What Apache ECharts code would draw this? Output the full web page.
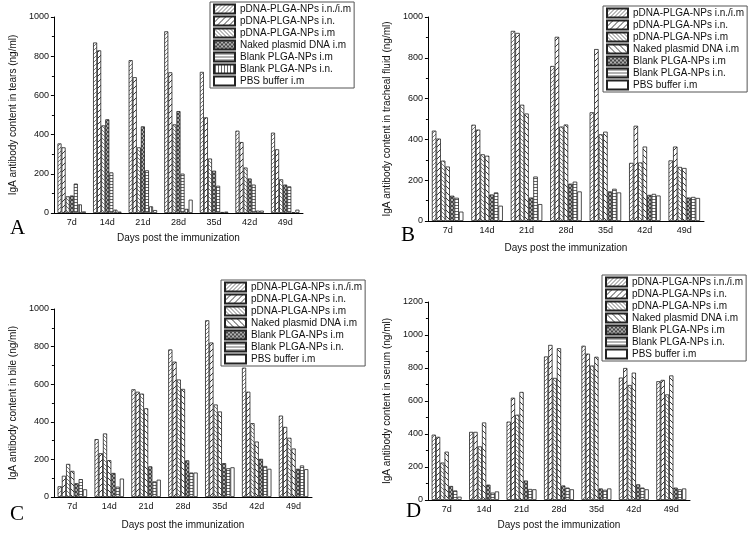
<!DOCTYPE html>
<html><head><meta charset="utf-8">
<script src="https://cdn.jsdelivr.net/npm/echarts@6/dist/echarts.min.js"></script>
<style>
html,body{margin:0;padding:0;background:#fff;width:748px;height:535px;overflow:hidden}
.p{position:absolute;width:374px;height:267px}
</style></head>
<body>
<div id="A" class="p" style="left:0;top:0"></div>
<div id="B" class="p" style="left:374px;top:0"></div>
<div id="C" class="p" style="left:0;top:268px"></div>
<div id="D" class="p" style="left:374px;top:268px"></div>
<script>
// ---------- data ----------
const days = ['7d','14d','21d','28d','35d','42d','49d'];
const groupNames = ['pDNA-PLGA-NPs i.n./i.m','pDNA-PLGA-NPs i.n.','pDNA-PLGA-NPs i.m','Naked plasmid DNA i.m','Blank PLGA-NPs i.m','Blank PLGA-NPs i.n.','PBS buffer i.m'];

// A: tears
const tears_inim   = [355, 870, 780, 927, 720, 420, 410];
const tears_in     = [335, 830, 693, 718, 488, 362, 325];
const tears_im     = [85, 447, 335, 452, 278, 232, 172];
const tears_naked  = [89, 478, 442, 520, 216, 176, 145];
const tears_blkim  = [150, 207, 218, 201, 139, 145, 136];
const tears_blkin  = [44, 17, 34, 21, 5, 12, 4];
const tears_pbs    = [8, 7, 15, 68, 7, 12, 17];

// B: tracheal fluid
const trach_inim   = [443, 472, 932, 760, 533, 285, 297];
const trach_in     = [404, 448, 922, 903, 843, 467, 365];
const trach_im     = [296, 327, 570, 463, 425, 287, 265];
const trach_naked  = [267, 320, 527, 473, 438, 365, 260];
const trach_blkim  = [124, 130, 115, 183, 145, 128, 115];
const trach_blkin  = [114, 140, 218, 193, 158, 133, 118];
const trach_pbs    = [46, 75, 83, 145, 140, 125, 113];

// C: bile
const bile_inim    = [57, 308, 573, 785, 940, 688, 433];
const bile_in      = [113, 233, 560, 720, 822, 560, 373];
const bile_im      = [176, 338, 550, 625, 492, 393, 315];
const bile_naked   = [139, 196, 472, 575, 455, 295, 258];
const bile_blkim   = [73, 128, 163, 195, 180, 203, 150];
const bile_blkin   = [95, 55, 83, 130, 153, 165, 168];
const bile_pbs     = [41, 98, 92, 130, 158, 150, 148];

// D: serum
const serum_inim   = [396, 413, 475, 870, 935, 742, 720];
const serum_in     = [383, 413, 620, 940, 887, 800, 728];
const serum_im     = [227, 325, 517, 740, 815, 697, 640];
const serum_naked  = [293, 470, 655, 920, 868, 772, 755];
const serum_blkim  = [85, 93, 118, 88, 70, 95, 75];
const serum_blkin  = [58, 45, 67, 75, 62, 75, 65];
const serum_pbs    = [20, 52, 65, 65, 70, 65, 70];

const yMaxA = 1000, yMaxB = 1000, yMaxC = 1000, yMaxD = 1200;

// ---------- patterns ----------
function makePattern(type){
  const wide = (type==='slashWide' || type==='backWide');
  const s = wide ? 6 : (type==='horiz'||type==='vert' ? 3 : 4);
  const c = document.createElement('canvas'); c.width = s; c.height = s;
  const g = c.getContext('2d');
  g.fillStyle = (type==='cross') ? '#b0b0b0' : '#fff';
  g.fillRect(0,0,s,s);
  g.strokeStyle = (type==='slashDense'||type==='backDense') ? '#7a7a7a' : (type==='horiz'||type==='vert' ? '#666' : '#3a3a3a');
  g.lineWidth = (type==='cross') ? 0.9 : 1;
  const line=(x1,y1,x2,y2)=>{g.beginPath();g.moveTo(x1,y1);g.lineTo(x2,y2);g.stroke();};
  const slash=()=>{line(-1,1,1,-1);line(0,s,s,0);line(s-1,s+1,s+1,s-1);};
  const back=()=>{line(0,0,s,s);line(-1,s-1,1,s+1);line(s-1,-1,s+1,1);};
  if(type==='slashDense'||type==='slashWide') slash();
  else if(type==='backDense'||type==='backWide') back();
  else if(type==='cross'){ slash(); back(); }
  else if(type==='horiz'){ line(0,1.5,s,1.5); }
  else if(type==='vert'){ line(1.5,0,1.5,s); }
  return {image:c, repeat:'repeat'};
}
const patsA = ['slashDense','slashWide','backDense','cross','horiz','vert','white'];
const patsBCD = ['slashDense','slashWide','backDense','backWide','cross','horiz','white'];

const FF = "'Liberation Sans',Arial,sans-serif";

function build(id, cfg){
  const chart = echarts.init(document.getElementById(id), null, {renderer:'canvas'});
  const series = groupNames.map((n,i)=>({
    type:'bar', name:n, data:cfg.values[i], barGap:'0%', barCategoryGap:'20%',
    itemStyle:{color: cfg.pats[i]==='white' ? '#fff' : makePattern(cfg.pats[i]), borderColor:'#222', borderWidth:0.8}
  }));
  chart.setOption({
    animation:false,
    textStyle:{fontFamily:FF},
    grid:{left:cfg.grid[0], top:cfg.grid[1], width:cfg.grid[2], height:cfg.grid[3], containLabel:false},
    legend:{
      orient:'vertical', left:cfg.legend[0], top:cfg.legend[1],
      icon:'rect', itemWidth:21, itemHeight:9, itemGap:0,
      padding:[1,3,1,3], borderColor:'#555', borderWidth:1,
      textStyle:{fontFamily:FF, fontSize:10, color:'#111', lineHeight:12},
      data:groupNames
    },
    xAxis:{
      type:'category', data:days,
      axisLine:{lineStyle:{color:'#000', width:1}},
      axisTick:{length:3, lineStyle:{color:'#000'}},
      axisLabel:{fontSize:9, color:'#111', margin:5, fontFamily:FF},
      name:'Days post the immunization', nameLocation:'middle', nameGap:cfg.xGap,
      nameTextStyle:{fontSize:10, color:'#111', fontFamily:FF}
    },
    yAxis:{
      type:'value', min:0, max:cfg.ymax, interval:200,
      axisLine:{show:true, lineStyle:{color:'#000', width:1}},
      axisTick:{show:true, length:3, lineStyle:{color:'#000'}},
      minorTick:{show:true, splitNumber:2, length:2, lineStyle:{color:'#000'}},
      splitLine:{show:false},
      axisLabel:{fontSize:9, color:'#111', margin:5, fontFamily:FF, formatter:v=>String(v)},
      name:cfg.yName, nameLocation:'middle', nameGap:cfg.yGap,
      nameTextStyle:{fontSize:10, color:'#111', fontFamily:FF}
    },
    graphic:[{type:'text', x:cfg.letter[0], y:cfg.letter[1],
      style:{text:id, fontSize:21, fontFamily:"'Liberation Serif','Times New Roman',serif", fill:'#000', verticalAlign:'middle'}}],
    series:series
  });
}

build('A', {values:[tears_inim,tears_in,tears_im,tears_naked,tears_blkim,tears_blkin,tears_pbs], pats:patsA,
  grid:[40,17,263,196], legend:[210,2], ymax:yMaxA, xGap:20, yGap:27,
  yName:'IgA antibody content in tears (ng/ml)', letter:[10,228]});
build('B', {values:[trach_inim,trach_in,trach_im,trach_naked,trach_blkim,trach_blkin,trach_pbs], pats:patsBCD,
  grid:[50,17,280,204], legend:[229,6], ymax:yMaxB, xGap:22, yGap:28,
  yName:'IgA antibody content in tracheal fluid (ng/ml)', letter:[27,235]});
build('C', {values:[bile_inim,bile_in,bile_im,bile_naked,bile_blkim,bile_blkin,bile_pbs], pats:patsBCD,
  grid:[48,41,264,192], legend:[221,12], ymax:yMaxC, xGap:23, yGap:30,
  yName:'IgA antibody content in bile (ng/ml)', letter:[10,246]});
build('D', {values:[serum_inim,serum_in,serum_im,serum_naked,serum_blkim,serum_blkin,serum_pbs], pats:patsBCD,
  grid:[51,34,265,199], legend:[228,7], ymax:yMaxD, xGap:20, yGap:31,
  yName:'IgA antibody content in serum (ng/ml)', letter:[32,243]});
</script>
</body></html>
